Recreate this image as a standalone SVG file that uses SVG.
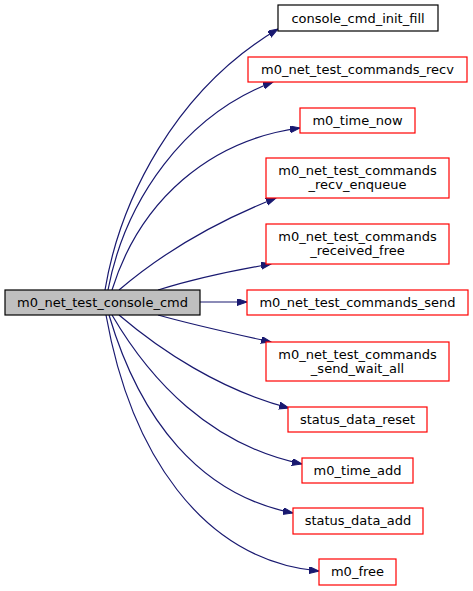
<svg xmlns="http://www.w3.org/2000/svg" width="473" height="591" viewBox="0 0 473 591">
<defs>
<marker id="a" markerWidth="12" markerHeight="9" refX="10" refY="3.5" orient="auto" markerUnits="userSpaceOnUse"><path d="M0,0 L10,3.5 L0,7 z" fill="#191970" stroke="#191970" stroke-width="1"/></marker>
<style>
.e{fill:none;stroke:#191970;stroke-width:1.2;marker-end:url(#a)}
.n rect{fill:#fff;stroke:#ff0000;stroke-width:1.2}
.b rect{fill:#fff;stroke:#000;stroke-width:1.2}
.m rect{fill:#bfbfbf;stroke:#000;stroke-width:1.2}
text{font-family:"DejaVu Sans",sans-serif;font-size:13px;text-anchor:middle;fill:#000}
</style>
</defs>
<rect width="473" height="591" fill="#fff"/>
<g id="edges">
<path class="e" d="M105,290 C120,200 175,90 278,29"/>
<path class="e" d="M108,290 C125,200 185,115 273,82"/>
<path class="e" d="M112,290 C140,200 210,140 300,128"/>
<path class="e" d="M119,290 C160,255 215,222 276,198"/>
<path class="e" d="M158,290 C190,280 230,271 271,264"/>
<path class="e" d="M200,302 L247,302"/>
<path class="e" d="M158,315 C190,324 230,333 271,342"/>
<path class="e" d="M119,315 C160,350 220,390 289,408"/>
<path class="e" d="M112,315 C150,380 210,445 302,464"/>
<path class="e" d="M109,315 C140,420 200,495 293,513"/>
<path class="e" d="M106,315 C130,450 200,560 319,571"/>
</g>
<g id="n0" class="m"><rect x="5" y="290" width="195" height="25"/><text x="102.5" y="307">m0_net_test_console_cmd</text></g>
<g id="n1" class="b"><rect x="278" y="5" width="160" height="26"/><text x="358" y="22.5">console_cmd_init_fill</text></g>
<g id="n2" class="n"><rect x="248" y="57" width="219" height="25"/><text x="357.5" y="74">m0_net_test_commands_recv</text></g>
<g id="n3" class="n"><rect x="300" y="108" width="115" height="25"/><text x="357.5" y="125">m0_time_now</text></g>
<g id="n4" class="n"><rect x="266" y="158" width="183" height="40"/><text x="357.5" y="175">m0_net_test_commands</text><text x="357.5" y="189">_recv_enqueue</text></g>
<g id="n5" class="n"><rect x="266" y="224" width="183" height="40"/><text x="357.5" y="241">m0_net_test_commands</text><text x="357.5" y="255">_received_free</text></g>
<g id="n6" class="n"><rect x="247" y="290" width="221" height="25"/><text x="357.5" y="307">m0_net_test_commands_send</text></g>
<g id="n7" class="n"><rect x="266" y="342" width="183" height="39"/><text x="357.5" y="359">m0_net_test_commands</text><text x="357.5" y="373">_send_wait_all</text></g>
<g id="n8" class="n"><rect x="288" y="407" width="139" height="25"/><text x="357.5" y="424">status_data_reset</text></g>
<g id="n9" class="n"><rect x="302" y="458" width="111" height="25"/><text x="357.5" y="475">m0_time_add</text></g>
<g id="n10" class="n"><rect x="293" y="508" width="130" height="26"/><text x="358" y="525">status_data_add</text></g>
<g id="n11" class="n"><rect x="319" y="559" width="77" height="26"/><text x="357.5" y="576">m0_free</text></g>
</svg>
